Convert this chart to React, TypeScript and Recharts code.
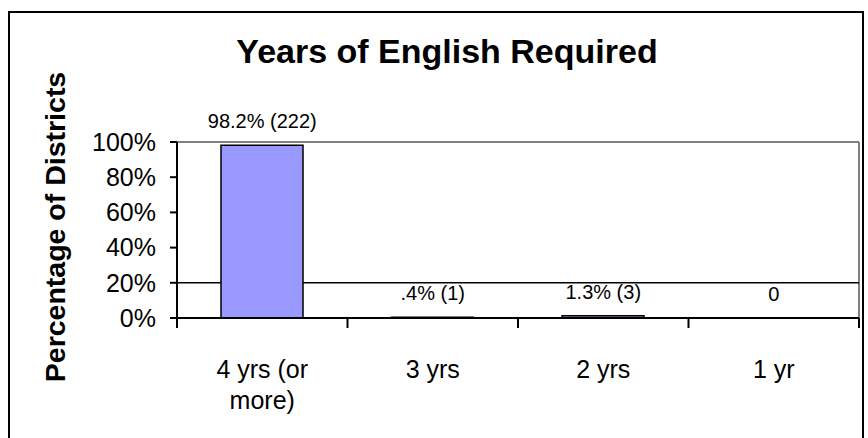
import React from "react";
import { ComposedChart, Bar, Line, XAxis, YAxis, CartesianGrid, LabelList } from "recharts";

const CATEGORIES = ["4 yrs (or more)", "3 yrs", "2 yrs", "1 yr"];
const PERCENTS = [98.2, 0.4, 1.3, 0];
const COUNTS = [222, 1, 3, 0];
const Y_TICKS = [0, 20, 40, 60, 80, 100];

const data = CATEGORIES.map((name, i) => ({ name, pct: PERCENTS[i], count: COUNTS[i] }));

const FONT = "'Liberation Sans', Arial, sans-serif";
const W = 868;
const H = 438;
const M = { top: 142, right: 9, bottom: 80, left: 117 };
const Y_W = 60;
const X_H = 40;
const PLOT_W = W - M.left - Y_W - M.right;
const BAND = PLOT_W / CATEGORIES.length;

const fmtLabel = (i: number) => {
  const p = PERCENTS[i];
  if (p === 0) return "0";
  return `${String(p).replace(/^0/, "")}% (${COUNTS[i]})`;
};

const scaleOf = (axis: any, v: number) => {
  const s = axis?.scale;
  if (typeof s === "function") return s(v);
  if (s && typeof s.map === "function") return s.map(v);
  return 0;
};

// excel style wrap: break before the "(" part on long labels
const wrap = (s: string) => (s.length > 10 ? [s.slice(0, s.lastIndexOf(" ")), s.slice(s.lastIndexOf(" ") + 1)] : [s]);

function XTick(props: any) {
  const { x, y, payload, index } = props;
  const half = BAND / 2;
  const lines = wrap(String(payload.value));
  return (
    <g>
      {index === 0 && <line x1={x - half} x2={x - half} y1={y - 8} y2={y + 2} stroke="#000" strokeWidth={2} />}
      <line x1={x + half} x2={x + half} y1={y - 8} y2={y + 2} stroke="#000" strokeWidth={2} />
      <text x={x} y={y + 52} textAnchor="middle" fontSize={25} fontFamily={FONT} fill="#000">
        {lines.map((l, i) => (
          <tspan key={i} x={x} dy={i === 0 ? 0 : 31}>{l}</tspan>
        ))}
      </text>
    </g>
  );
}

function ValueLabel(props: any) {
  const { x, y, index } = props;
  return (
    <text x={x} y={y - 17} textAnchor="middle" fontSize={20} fontFamily={FONT} fill="#000">
      {fmtLabel(index)}
    </text>
  );
}

export default function App() {
  return (
    <div style={{ position: "absolute", left: 0, top: 0, width: W, height: H, background: "#fff", overflow: "hidden" }}>
      <div style={{ position: "absolute", left: 8, top: 11, width: 852, height: 460, border: "2px solid #000" }} />
      <svg width={W} height={H} style={{ position: "absolute", left: 0, top: 0 }}>
        <text x={447} y={63} textAnchor="middle" fontSize={34} fontWeight="bold" fontFamily={FONT} fill="#000">
          Years of English Required
        </text>
        <text x={65} y={227} transform="rotate(-90, 65, 227)" textAnchor="middle" fontSize={28.5} fontWeight="bold"
          fontFamily={FONT} fill="#000">
          Percentage of Districts
        </text>
      </svg>
      <div style={{ position: "absolute", left: 0, top: 0 }}>
        <ComposedChart width={W} height={H} data={data} margin={M} barSize={82}>
          <CartesianGrid vertical={true} horizontal={true} stroke="#808080" strokeWidth={2}
            horizontalCoordinatesGenerator={({ offset }: any) => [offset.top]}
            verticalCoordinatesGenerator={({ offset }: any) => [offset.left + offset.width]} />
          <CartesianGrid vertical={false} stroke="#000" strokeWidth={1.5}
            horizontalCoordinatesGenerator={({ yAxis }: any) => [scaleOf(yAxis, 20)]} />
          <XAxis dataKey="name" height={X_H} axisLine={{ stroke: "#000", strokeWidth: 2 }} tickLine={false}
            tick={<XTick />} interval={0} />
          <YAxis domain={[0, 100]} ticks={Y_TICKS} width={Y_W} tickFormatter={(v: number) => `${v}%`}
            axisLine={{ stroke: "#000", strokeWidth: 2 }} tickLine={{ stroke: "#000", strokeWidth: 2 }}
            tickSize={7} tickMargin={14} tick={{ fontSize: 25, fontFamily: FONT, fill: "#000" }} />
          <Bar dataKey="pct" fill="#9999FF" stroke="#000" strokeWidth={1.5} isAnimationActive={false} />
          <Line dataKey="pct" stroke="none" dot={false} activeDot={false} isAnimationActive={false}>
            <LabelList dataKey="pct" content={<ValueLabel />} />
          </Line>
        </ComposedChart>
      </div>
    </div>
  );
}
